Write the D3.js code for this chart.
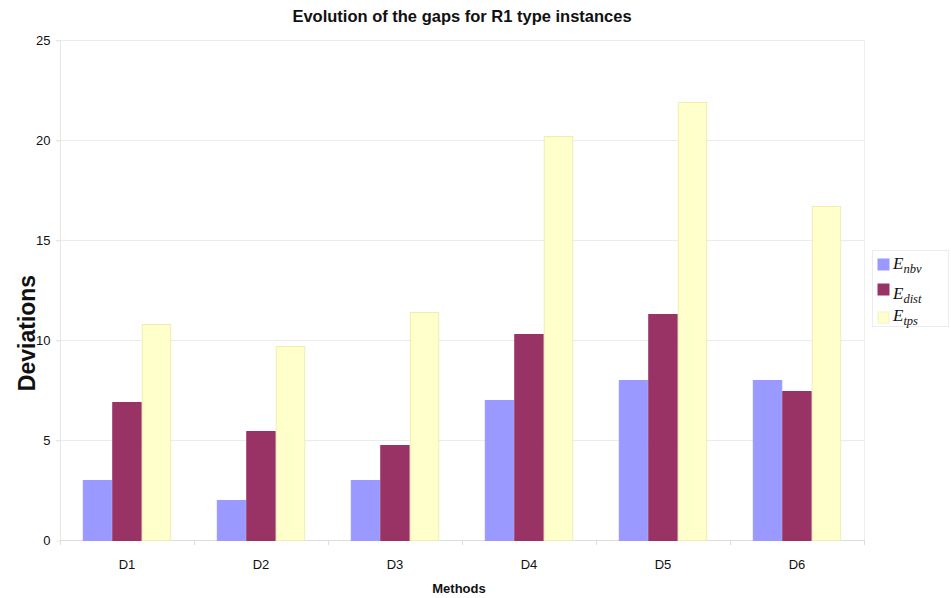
<!DOCTYPE html>
<html>
<head>
<meta charset="utf-8">
<script src="https://cdn.jsdelivr.net/npm/d3@7/dist/d3.min.js"></script>
<style>
  body { margin: 0; background: #fff; }
  svg { display: block; font-family: "Liberation Sans", Arial, sans-serif; }
</style>
</head>
<body>
<svg id="chart" width="951" height="598"></svg>
<script>
// Categories and per-series deviations
const methods = ["D1", "D2", "D3", "D4", "D5", "D6"];
const seriesKeys = ["nbv", "dist", "tps"];
const nbvValues = [3, 2, 3, 7, 8, 8];
const distValues = [6.9, 5.45, 4.75, 10.3, 11.3, 7.45];
const tpsValues = [10.8, 9.7, 11.4, 20.2, 21.9, 16.7];
const yTicks = [0, 5, 10, 15, 20, 25];

const seriesValues = { nbv: nbvValues, dist: distValues, tps: tpsValues };
const colors = { nbv: "#9999ff", dist: "#993366", tps: "#ffffcc" };
const strokes = { nbv: "#9999ff", dist: "#993366", tps: "#eeeeb0" };

const svg = d3.select("#chart");
const margin = { left: 60, right: 87, top: 40, bottom: 58 };
const W = 951, H = 598;
const x0 = margin.left, x1 = W - margin.right;
const y0 = H - margin.bottom, y1 = margin.top;

const x = d3.scaleBand().domain(methods).range([x0, x1]).paddingInner(0.34).paddingOuter(0.17);
const xs = d3.scaleBand().domain(seriesKeys).range([0, x.bandwidth()]);
const y = d3.scaleLinear().domain([0, 25]).range([y0, y1]);

// Horizontal gridlines
svg.append("g").selectAll("line").data(yTicks.filter(t => t > 0)).join("line")
  .attr("x1", x0 - 4).attr("x2", x1)
  .attr("y1", d => y(d) + 0.5).attr("y2", d => y(d) + 0.5)
  .attr("stroke", "#ebebeb").attr("stroke-width", 1);

// Plot frame: left and right edges
svg.append("line").attr("x1", x0 + 0.5).attr("x2", x0 + 0.5).attr("y1", y1).attr("y2", y0)
  .attr("stroke", "#e6e6e6");
svg.append("line").attr("x1", x1 + 0.5).attr("x2", x1 + 0.5).attr("y1", y1).attr("y2", y0)
  .attr("stroke", "#efefef");

// Y axis
const yAxis = d3.axisLeft(y).tickValues(yTicks).tickSize(4).tickPadding(6);
const gy = svg.append("g").attr("transform", `translate(${x0 + 0.5},0.5)`).call(yAxis);
gy.select(".domain").remove();
gy.selectAll(".tick line").attr("stroke", "#e6e6e6");
gy.selectAll(".tick text").attr("font-size", 13).attr("fill", "#111")
  .attr("font-family", "Liberation Sans, Arial, sans-serif");

// X axis baseline and category separators
const boundaries = d3.range(methods.length + 1).map(i => x0 + i * (x1 - x0) / methods.length);
svg.append("line").attr("x1", x0).attr("x2", x1).attr("y1", y0 + 0.5).attr("y2", y0 + 0.5)
  .attr("stroke", "#dddddd");
svg.append("g").selectAll("line").data(boundaries).join("line")
  .attr("x1", d => Math.round(d) + 0.5).attr("x2", d => Math.round(d) + 0.5)
  .attr("y1", y0).attr("y2", y0 + 5).attr("stroke", "#dddddd");

svg.append("g").selectAll("text").data(methods).join("text")
  .attr("x", d => x(d) + x.bandwidth() / 2)
  .attr("y", y0 + 29)
  .attr("text-anchor", "middle").attr("font-size", 13).attr("fill", "#111")
  .text(d => d);

// Bars
const groups = svg.append("g").selectAll("g").data(methods).join("g")
  .attr("transform", d => `translate(${x(d)},0)`);
groups.selectAll("rect")
  .data((d, i) => seriesKeys.map(k => ({ key: k, value: seriesValues[k][i] })))
  .join("rect")
  .attr("x", d => xs(d.key) + 0.5)
  .attr("width", xs.bandwidth() - 1)
  .attr("y", d => y(d.value) + 0.5)
  .attr("height", d => y0 - y(d.value))
  .attr("fill", d => colors[d.key])
  .attr("stroke", d => strokes[d.key])
  .attr("stroke-width", 1);

// Titles
svg.append("text").attr("x", 462).attr("y", 22).attr("text-anchor", "middle")
  .attr("font-size", 16.5).attr("font-weight", "bold").attr("fill", "#111")
  .text("Evolution of the gaps for R1 type instances");
svg.append("text").attr("x", 459).attr("y", 593).attr("text-anchor", "middle")
  .attr("font-size", 13).attr("font-weight", "bold").attr("fill", "#111")
  .text("Methods");
svg.append("text").attr("transform", `translate(35,${(y0 + y1) / 2 + 43}) rotate(-90)`)
  .attr("text-anchor", "middle").attr("font-size", 23).attr("font-weight", "bold").attr("fill", "#111")
  .text("Deviations");

// Legend
const legend = svg.append("g");
legend.append("rect").attr("x", 872.5).attr("y", 250.5).attr("width", 76).attr("height", 76)
  .attr("fill", "#fff").attr("stroke", "#ececec");
const legendY = [265, 290, 318];
const textY = [269, 299, 321];
const subs = { nbv: "nbv", dist: "dist", tps: "tps" };
seriesKeys.forEach((k, i) => {
  legend.append("rect").attr("x", 878).attr("y", legendY[i] - 6).attr("width", 11).attr("height", 11)
    .attr("fill", colors[k]).attr("stroke", k === "tps" ? "#f3f3c0" : colors[k]);
  const t = legend.append("text").attr("x", 893).attr("y", textY[i])
    .attr("font-family", "Liberation Serif, DejaVu Serif, serif").attr("font-style", "italic")
    .attr("fill", "#111");
  t.append("tspan").attr("font-size", 17).text("E");
  t.append("tspan").attr("font-size", 12.5).attr("dy", 4).text(subs[k]);
});
</script>
</body>
</html>
